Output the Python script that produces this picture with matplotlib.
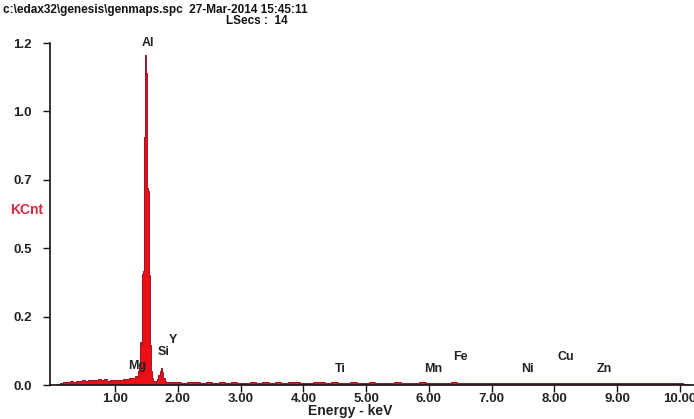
import numpy as np
import matplotlib
matplotlib.use("Agg")
import matplotlib.pyplot as plt

# ---- data ----
low_energy = np.round(np.arange(0.10, 1.351, 0.05), 2)
low_kcnt = [0.004, 0.007, 0.009, 0.012, 0.014, 0.011, 0.015, 0.013, 0.017, 0.014,
            0.019, 0.016, 0.018, 0.021, 0.017, 0.020, 0.015, 0.018, 0.016, 0.019,
            0.017, 0.021, 0.020, 0.025, 0.023, 0.031]

peak_energy = np.round(np.arange(1.36, 1.601, 0.01), 2)
peak_kcnt = [0.030, 0.050, 0.055, 0.060, 0.140, 0.150, 0.140, 0.150, 0.390, 0.400,
             0.680, 0.870, 0.880, 1.158, 1.095, 0.870, 0.690, 0.680, 0.390, 0.386,
             0.140, 0.140, 0.050, 0.040, 0.025]

si_energy = np.round(np.arange(1.62, 1.861, 0.02), 2)
si_kcnt = [0.015, 0.012, 0.014, 0.020, 0.035, 0.050, 0.060, 0.045, 0.025, 0.015,
           0.012, 0.010, 0.009]

high_energy = np.round(np.arange(1.90, 10.101, 0.10), 2)
high_kcnt = [0.010, 0.009, 0.008, 0.010, 0.009, 0.007, 0.009, 0.008, 0.010, 0.008,
             0.009, 0.007, 0.008, 0.010, 0.008, 0.009, 0.007, 0.009, 0.008, 0.010,
             0.009, 0.008, 0.007, 0.009, 0.010, 0.008, 0.009, 0.008, 0.007, 0.009,
             0.008, 0.007, 0.009, 0.008, 0.007, 0.008, 0.009, 0.007, 0.008, 0.007,
             0.009, 0.008, 0.007, 0.008, 0.007, 0.009, 0.007, 0.008, 0.007, 0.008,
             0.007, 0.006, 0.008, 0.007, 0.008, 0.007, 0.006, 0.008, 0.007, 0.006,
             0.007, 0.008, 0.006, 0.007, 0.008, 0.007, 0.006, 0.007, 0.008, 0.007,
             0.006, 0.007, 0.006, 0.007, 0.008, 0.006, 0.007, 0.006, 0.007, 0.006,
             0.007, 0.006, 0.005]

element_names = ["Al", "Mg", "Si", "Y", "Ti", "Mn", "Fe", "Ni", "Cu", "Zn"]
element_x = [1.53, 1.35, 1.78, 1.92, 4.59, 6.07, 6.51, 7.58, 8.19, 8.79]
element_y = [1.20, 0.067, 0.116, 0.158, 0.056, 0.056, 0.10, 0.056, 0.10, 0.056]

x_ticks = [1, 2, 3, 4, 5, 6, 7, 8, 9, 10]
y_ticks = [0.0, 0.24, 0.48, 0.72, 0.96, 1.20]

title_text = "c:\\edax32\\genesis\\genmaps.spc  27-Mar-2014 15:45:11"
lsecs_text = "LSecs :  14"

# ---- build spectrum ----
energy = np.concatenate([low_energy, peak_energy, si_energy, high_energy])
kcnt = np.array(low_kcnt + peak_kcnt + si_kcnt + high_kcnt)
mids = (energy[1:] + energy[:-1]) / 2
edges = np.concatenate([[energy[0] - 0.025], mids, [energy[-1] + 0.05]])

plt.rcParams['font.family'] = ['Liberation Sans', 'DejaVu Sans']
plt.rcParams['font.weight'] = 'bold'

fig = plt.figure(figsize=(6.94, 4.19), dpi=100)
ax = fig.add_axes([50/694, (419-385)/419, 1 - 50/694, (385-43)/419])

red = '#ec1016'
ax.stairs(kcnt, edges, fill=True, color=red, baseline=0)
ax.stairs(kcnt, edges, color='#a0142a', lw=0.7, baseline=None)

ax.set_xlim(-0.036, 10.227)
ax.set_ylim(0, 1.2)
for s in ['top', 'right']:
    ax.spines[s].set_visible(False)
for s in ['left', 'bottom']:
    ax.spines[s].set_linewidth(1.2)
    ax.spines[s].set_color('#111111')

ax.set_xticks(x_ticks)
ax.set_xticklabels([f"{v:.2f}" for v in x_ticks])
ax.set_yticks(y_ticks)
ax.set_yticklabels([f"{v:.1f}" for v in y_ticks])
ax.tick_params(axis='both', direction='out', length=5, width=1, colors='#111111',
               labelsize=9.5, labelcolor='#222222')
ax.tick_params(axis='y', pad=8)
ax.tick_params(axis='x', pad=0.5)

for name, ex, ey in zip(element_names, element_x, element_y):
    ax.text(ex, ey, name, ha='center', va='center', fontsize=9,
            fontweight='bold', color='#222222', clip_on=False)

fig.text(3/694, 1 - 10/419, title_text, ha='left', va='center', fontsize=8.5,
         fontweight='bold', color='#111111')
fig.text(226/694, 1 - 21/419, lsecs_text, ha='left', va='center', fontsize=8.5,
         fontweight='bold', color='#111111')
fig.text(10/694, 1 - 210/419, "KCnt", ha='left', va='center', fontsize=10,
         fontweight='bold', color='#d8283c')
fig.text(350/694, 1 - 411/419, "Energy - keV", ha='center', va='center', fontsize=10,
         fontweight='bold', color='#222222')

fig.savefig("out.png", dpi=100)
